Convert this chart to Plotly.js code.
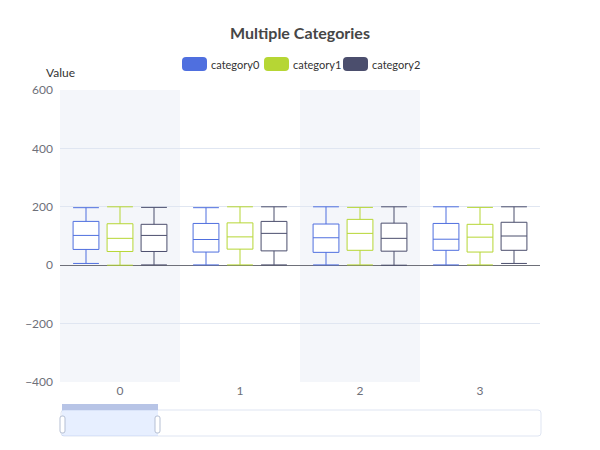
<!DOCTYPE html>
<html>
<head>
<meta charset="utf-8">
<script src="https://cdn.plot.ly/plotly-3.0.1.min.js"></script>
<style>
  html, body { margin: 0; padding: 0; background: #fff; }
  #chart { width: 600px; height: 450px; }
</style>
</head>
<body>
<div id="chart"></div>
<script>
// data
const categories = ['0', '1', '2', '3'];
const seriesNames = ['category0', 'category1', 'category2'];
const seriesColors = ['#4f6fdf', '#b6d634', '#4b4e6d'];

const lowerFence = [
    [6, 1, 1, 1],
    [0, 1, 1, 1],
    [1, 1, 0, 6]
];
const q1Values = [
    [54, 45, 44, 51],
    [47, 55, 51, 45],
    [47, 49, 48, 51]
];
const medianValues = [
    [102, 88, 94, 89],
    [92, 97, 109, 96],
    [102, 109, 92, 100]
];
const q3Values = [
    [150, 143, 141, 143],
    [142, 145, 157, 140],
    [140, 150, 144, 147]
];
const upperFence = [
    [197, 197, 200, 200],
    [200, 200, 198, 198],
    [198, 200, 200, 200]
];

const yTicks = [-400, -200, 0, 200, 400, 600];

// plot area in pixels (used for legend / slider decorations)
const W = 600, H = 450;
const plotLeft = 60, plotRight = 540, plotTop = 90, plotBottom = 382;
const px = x => (x - plotLeft) / (plotRight - plotLeft);
const py = y => (plotBottom - y) / (plotBottom - plotTop);

const traces = seriesNames.map((name, s) => ({
    type: 'box',
    name: name,
    x: categories,
    lowerfence: lowerFence[s],
    q1: q1Values[s],
    median: medianValues[s],
    q3: q3Values[s],
    upperfence: upperFence[s],
    line: { color: seriesColors[s], width: 1 },
    fillcolor: '#ffffff',
    whiskerwidth: 1,
    showlegend: false,
    hoverinfo: 'skip'
}));

const shapes = [];
const annotations = [];

// alternating split areas
categories.forEach((c, i) => {
    if (i % 2 === 0) {
        shapes.push({
            type: 'rect', layer: 'below',
            xref: 'x', yref: 'paper',
            x0: i - 0.5, x1: i + 0.5, y0: 0, y1: 1,
            fillcolor: '#f4f6fa', line: { width: 0 }
        });
    }
});

// rounded rectangle given in pixels, drawn in paper coords
function pixelRoundRect(x0, y0, x1, y1, r, fill, lineColor, lineWidth) {
    const rx = r / (plotRight - plotLeft), ry = r / (plotBottom - plotTop);
    const a = px(x0), b = px(x1), c = py(y1), d = py(y0);
    const path = `M${a + rx},${c} L${b - rx},${c} Q${b},${c} ${b},${c + ry} ` +
        `L${b},${d - ry} Q${b},${d} ${b - rx},${d} L${a + rx},${d} ` +
        `Q${a},${d} ${a},${d - ry} L${a},${c + ry} Q${a},${c} ${a + rx},${c} Z`;
    return {
        type: 'path', xref: 'paper', yref: 'paper', path: path,
        fillcolor: fill, line: { color: lineColor || fill, width: lineWidth || 0 }
    };
}

// legend drawn by hand (rounded icons like the reference)
const legendStarts = [182, 264, 343];
seriesNames.forEach((name, s) => {
    const x0 = legendStarts[s];
    shapes.push(pixelRoundRect(x0, 57, x0 + 25, 71, 4, seriesColors[s]));
    annotations.push({
        xref: 'paper', yref: 'paper', x: px(x0 + 27), y: py(64),
        xanchor: 'left', yanchor: 'middle', showarrow: false,
        text: name, font: { size: 11, color: '#333333' }
    });
});

// y axis name
annotations.push({
    xref: 'paper', yref: 'paper', x: px(60), y: py(72),
    xanchor: 'center', yanchor: 'middle', showarrow: false,
    text: 'Value', font: { size: 12, color: '#333333' }
});

// data zoom slider (decoration)
shapes.push(pixelRoundRect(61, 410, 541, 436, 3, '#ffffff', '#dfe5f2', 1));
shapes.push({
    type: 'rect', xref: 'paper', yref: 'paper',
    x0: px(62), x1: px(158), y0: py(436), y1: py(410),
    fillcolor: 'rgba(135,175,274,0.2)', line: { width: 0 }
});
shapes.push({
    type: 'rect', xref: 'paper', yref: 'paper',
    x0: px(62), x1: px(158), y0: py(410), y1: py(404),
    fillcolor: '#b7c4e6', line: { width: 0 }
});
shapes.push(pixelRoundRect(60, 416, 65, 433, 2, '#ffffff', '#b5bfd3', 1));
shapes.push(pixelRoundRect(155, 416, 160, 433, 2, '#ffffff', '#b5bfd3', 1));

const layout = {
    width: W, height: H,
    paper_bgcolor: '#ffffff',
    plot_bgcolor: '#ffffff',
    font: { family: 'Lato, "Noto Sans", sans-serif', color: '#6e7079', size: 12 },
    margin: { l: plotLeft, r: W - plotRight, t: plotTop, b: H - plotBottom, pad: 0 },
    title: {
        text: 'Multiple Categories',
        font: { size: 16, color: '#464646', weight: 'bold' },
        x: 0.5, xanchor: 'center',
        y: 1 - 33 / H, yref: 'container', yanchor: 'middle'
    },
    boxmode: 'group',
    boxgap: 0.15,
    boxgroupgap: 0.24,
    xaxis: {
        type: 'category',
        categoryarray: categories,
        showgrid: false,
        showline: false,
        zeroline: false,
        ticks: '',
        ticklen: 0,
        tickfont: { size: 12, color: '#6e7079' },
        fixedrange: true
    },
    yaxis: {
        range: [-400, 600],
        tickvals: yTicks,
        ticktext: yTicks.map(v => v < 0 ? '\u2212' + Math.abs(v) : String(v)),
        showgrid: true,
        gridcolor: '#e0e6f1',
        gridwidth: 1,
        zeroline: true,
        zerolinecolor: '#6e7079',
        zerolinewidth: 1,
        showline: false,
        ticks: '',
        ticklabelstandoff: 6,
        tickfont: { size: 12, color: '#6e7079' },
        fixedrange: true
    },
    shapes: shapes,
    annotations: annotations,
    showlegend: false
};

Plotly.newPlot('chart', traces, layout, { displayModeBar: false, staticPlot: true });
</script>
</body>
</html>
